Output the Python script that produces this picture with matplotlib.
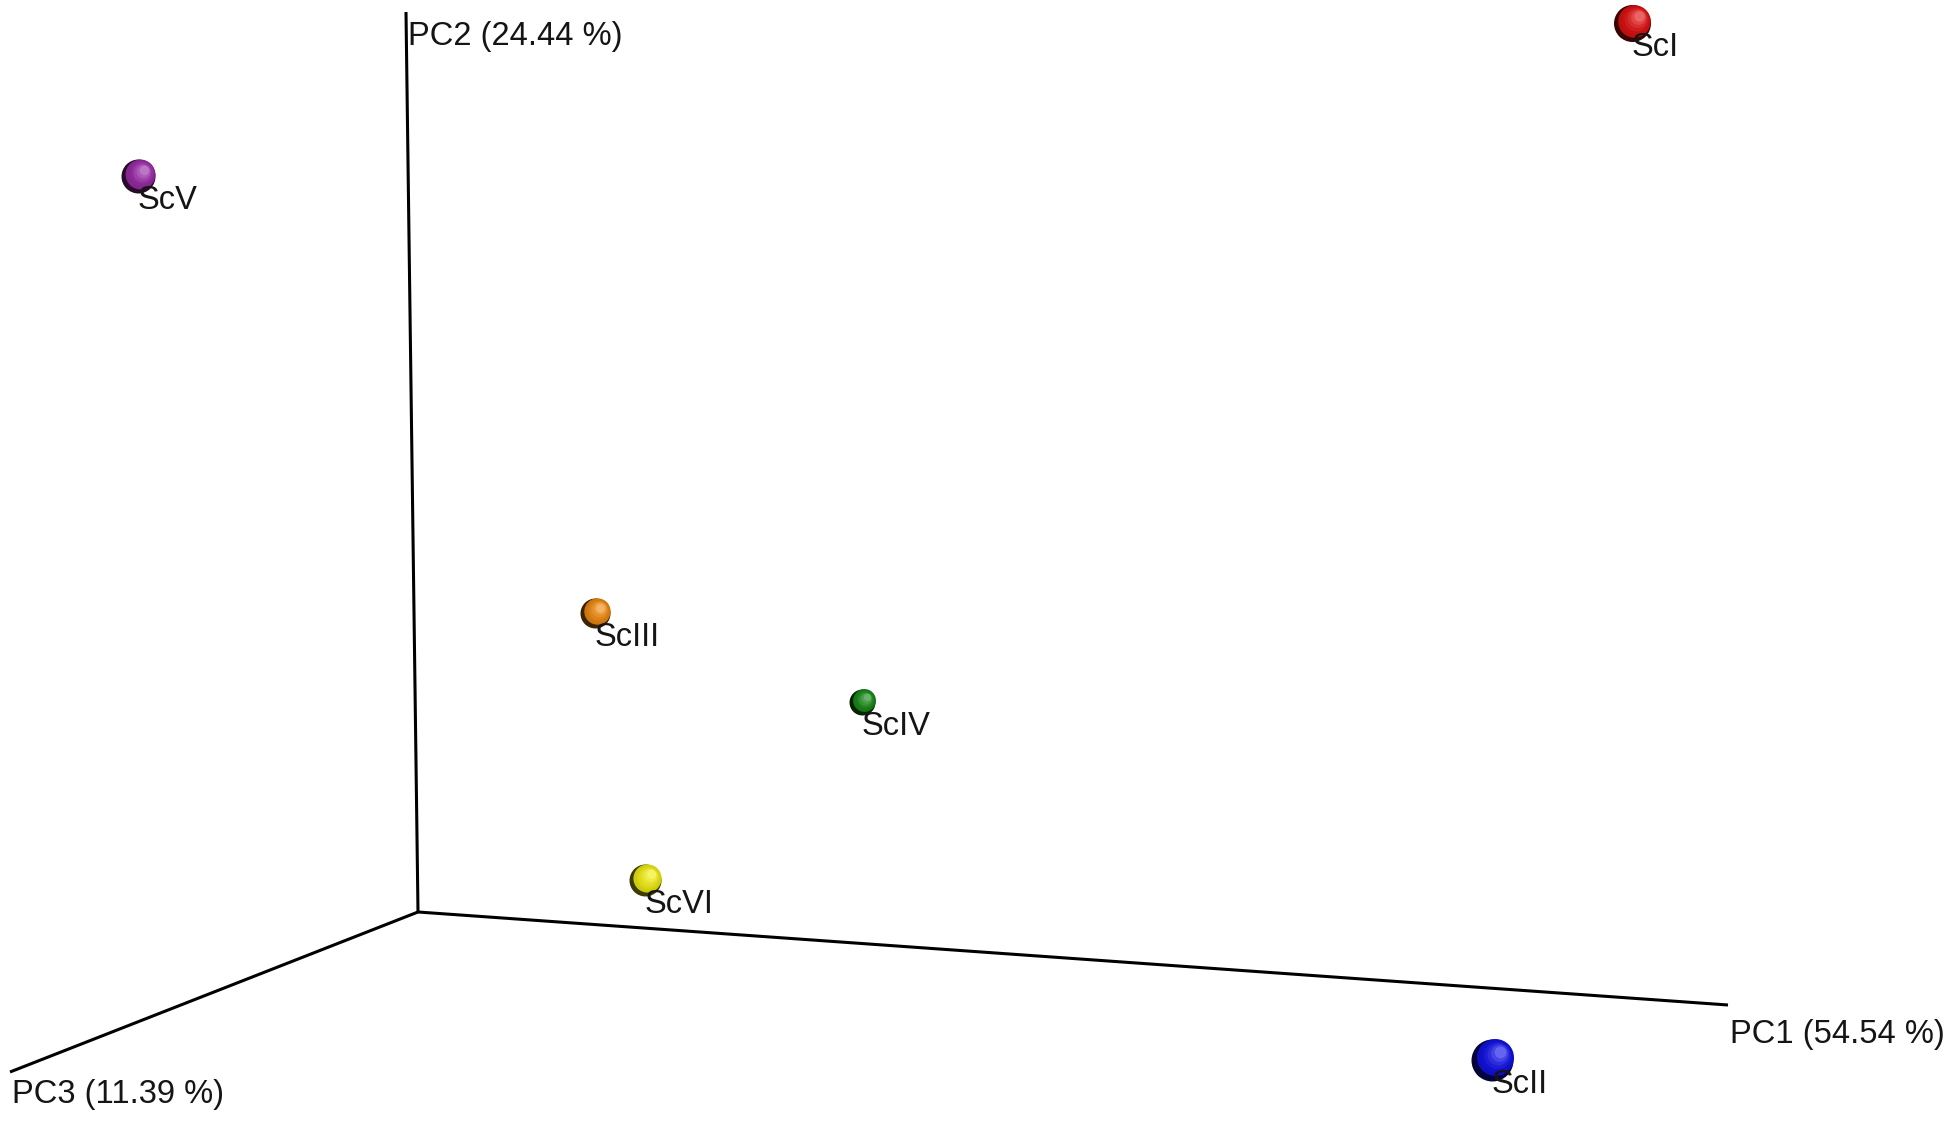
import matplotlib.pyplot as plt
import matplotlib.colors as mcolors

plt.rcParams['font.family'] = ['Liberation Sans', 'DejaVu Sans']

# sample scores (screen units)
samples = ["ScI", "ScII", "ScIII", "ScIV", "ScV", "ScVI"]
pc_x = [1632, 1492, 595, 862, 138, 645]
pc_y = [23, 1060, 613, 702, 176, 880]
colors = ["#e01010", "#1010e8", "#f08a10", "#188a18", "#9a2aa8", "#f2ee10"]
diam = [37, 42, 30, 26, 34, 32]  # sphere size in px (perspective)

# axis frame of the 3D view
origin = (418, 912)
axis_ends = {"PC1 (54.54 %)": (1728, 1005),
             "PC2 (24.44 %)": (406, 12),
             "PC3 (11.39 %)": (10, 1072)}
axis_label_pos = {"PC1 (54.54 %)": (1730, 1043),
                  "PC2 (24.44 %)": (408, 45),
                  "PC3 (11.39 %)": (12, 1103)}

fig = plt.figure(figsize=(19.54, 11.32), dpi=100)
ax = fig.add_axes([0, 0, 1, 1])
ax.set_xlim(0, 1954)
ax.set_ylim(1132, 0)
ax.axis("off")

for name, (ex, ey) in axis_ends.items():
    ax.plot([origin[0], ex], [origin[1], ey], color="black", lw=2.2,
            solid_capstyle="butt")
    lx, ly = axis_label_pos[name]
    ax.text(lx, ly, name, fontsize=23.5, color="#151515", va="baseline", ha="left")

px2pt = 72 / 100
for name, x, y, c, d in zip(samples, pc_x, pc_y, colors, diam):
    base = mcolors.to_rgb(c)
    dark = tuple(v * 0.25 for v in base)
    # shaded sphere: dark rim on lower left, then lighter layers toward upper right
    ax.scatter([x], [y], s=(d * px2pt) ** 2, color=[dark], zorder=3, linewidths=0)
    steps = 6
    for i in range(steps):
        f = i / (steps - 1)
        r = 0.88 - 0.6 * f
        sh = 0.06 + 0.12 * f
        col = tuple(v * (0.85 + 0.15 * f) + (1 - v) * 0.35 * f ** 2 for v in base)
        ax.scatter([x + d * sh], [y - d * sh], s=(d * r * px2pt) ** 2,
                   color=[col], zorder=4 + i * 0.01, linewidths=0)
    ax.text(x, y + 33, name, fontsize=23.5, color="#151515",
            va="baseline", ha="left", zorder=6)

fig.savefig("out.png", dpi=100, facecolor="white")
